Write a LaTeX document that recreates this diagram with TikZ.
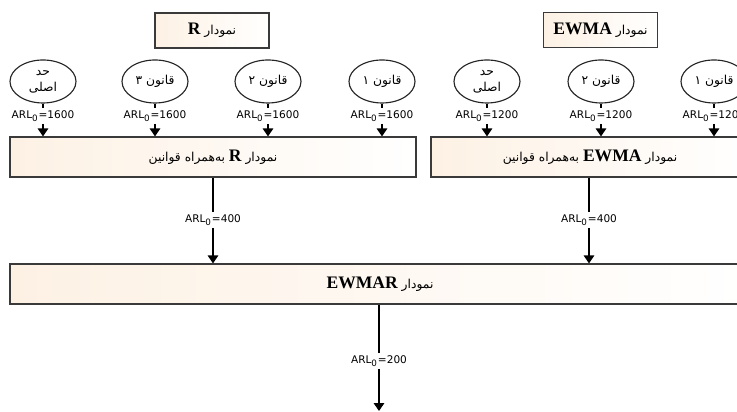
\documentclass[tikz,border=0pt]{standalone}
\usepackage{fontspec}
\usetikzlibrary{arrows.meta,shapes.geometric}
\TeXXeTstate=1
\newfontfamily\arabicfont[Script=Arabic]{DejaVu Sans}
\newfontfamily\serifbold{Liberation Serif}
\newfontfamily\arlfont{DejaVu Sans}
\definecolor{peach}{HTML}{FDF1E4}
\definecolor{boxline}{HTML}{3A3A3A}
\newcommand{\lat}[1]{\beginL{\serifbold\bfseries\fontsize{10}{11}\selectfont #1}\endL{}}
\newcommand{\arl}[1]{ARL\textsubscript{0}=#1}

\tikzset{
    titlebox/.style={rectangle, draw=boxline, line width=0.7pt, left color=peach, right color=white,
        minimum width=2.28cm, minimum height=0.70cm, inner sep=0pt,
        font=\arabicfont\fontsize{7}{9}\selectfont},
    rulebox/.style={titlebox, minimum height=0.80cm},
    rulenode/.style={ellipse, draw=black!85, line width=0.65pt, fill=white,
        minimum width=1.32cm, minimum height=0.86cm, inner sep=0pt, align=center,
        font=\arabicfont\fontsize{7}{9}\selectfont},
    arllabel/.style={fill=white, inner sep=1pt, font=\arlfont\fontsize{6}{7}\selectfont},
}

\begin{document}
\begin{tikzpicture}[>={Triangle[width=6pt,length=4.5pt]}, line width=0.7pt]
    \useasboundingbox (0,0) rectangle (14.74,8.24);

    % Titles
    \node[titlebox] (rtitle) at (4.24, 7.63) {\beginR نمودار \lat{R}\endR};
    \node[titlebox] (etitle) at (12.01, 7.64) {\beginR نمودار \lat{EWMA}\endR};

    % Rules of the R chart
    \node[rulenode] (r0) at (0.86, 6.61) {\beginR حد\endR\\\beginR اصلی\endR};
    \node[rulenode] (r3) at (3.10, 6.61) {\beginR قانون ۳\endR};
    \node[rulenode] (r2) at (5.36, 6.61) {\beginR قانون ۲\endR};
    \node[rulenode] (r1) at (7.64, 6.61) {\beginR قانون ۱\endR};

    % Rules of the EWMA chart
    \node[rulenode] (e0) at (9.74, 6.61) {\beginR حد\endR\\\beginR اصلی\endR};
    \node[rulenode] (e2) at (12.02, 6.61) {\beginR قانون ۲\endR};
    \node[rulenode] (e1) at (14.28, 6.61) {\beginR قانون ۱\endR};

    % Charts with rules
    \node[rulebox, minimum width=8.12cm] (rbox) at (4.26, 5.10)
        {\beginR نمودار \lat{R} به‌همراه قوانین\endR};
    \node[rulebox, minimum width=6.36cm] (ebox) at (11.80, 5.10)
        {\beginR نمودار \lat{EWMA} به‌همراه قوانین\endR};

    % Combined chart
    \node[rulebox, minimum width=14.80cm] (cbox) at (7.60, 2.56)
        {\beginR نمودار \lat{EWMAR}\endR};

    % ARL labels of the rules
    \node[arllabel] (lr0) at (0.86, 5.92) {\arl{1600}};
    \node[arllabel] (lr3) at (3.10, 5.92) {\arl{1600}};
    \node[arllabel] (lr2) at (5.36, 5.92) {\arl{1600}};
    \node[arllabel] (lr1) at (7.64, 5.92) {\arl{1600}};
    \node[arllabel] (le0) at (9.74, 5.92) {\arl{1200}};
    \node[arllabel] (le2) at (12.02, 5.92) {\arl{1200}};
    \node[arllabel] (le1) at (14.28, 5.92) {\arl{1200}};

    \draw (r0) -- (lr0);  \draw[->] (lr0) -- (lr0 |- rbox.north);
    \draw (r3) -- (lr3);  \draw[->] (lr3) -- (lr3 |- rbox.north);
    \draw (r2) -- (lr2);  \draw[->] (lr2) -- (lr2 |- rbox.north);
    \draw (r1) -- (lr1);  \draw[->] (lr1) -- (lr1 |- rbox.north);
    \draw (e0) -- (le0);  \draw[->] (le0) -- (le0 |- ebox.north);
    \draw (e2) -- (le2);  \draw[->] (le2) -- (le2 |- ebox.north);
    \draw (e1) -- (le1);  \draw[->] (le1) -- (le1 |- ebox.north);

    % Into the combined chart
    \node[arllabel] (lrm) at (4.26, 3.84) {\arl{400}};
    \node[arllabel] (lem) at (11.78, 3.84) {\arl{400}};
    \draw (rbox.south) -- (lrm);  \draw[->] (lrm) -- (lrm |- cbox.north);
    \draw (lem |- ebox.south) -- (lem);  \draw[->] (lem) -- (lem |- cbox.north);

    % Output
    \coordinate (out) at (7.58, 0.02);
    \node[arllabel] (lout) at (7.58, 1.02) {\arl{200}};
    \draw (lout |- cbox.south) -- (lout);  \draw[->] (lout) -- (out);
\end{tikzpicture}
\end{document}
